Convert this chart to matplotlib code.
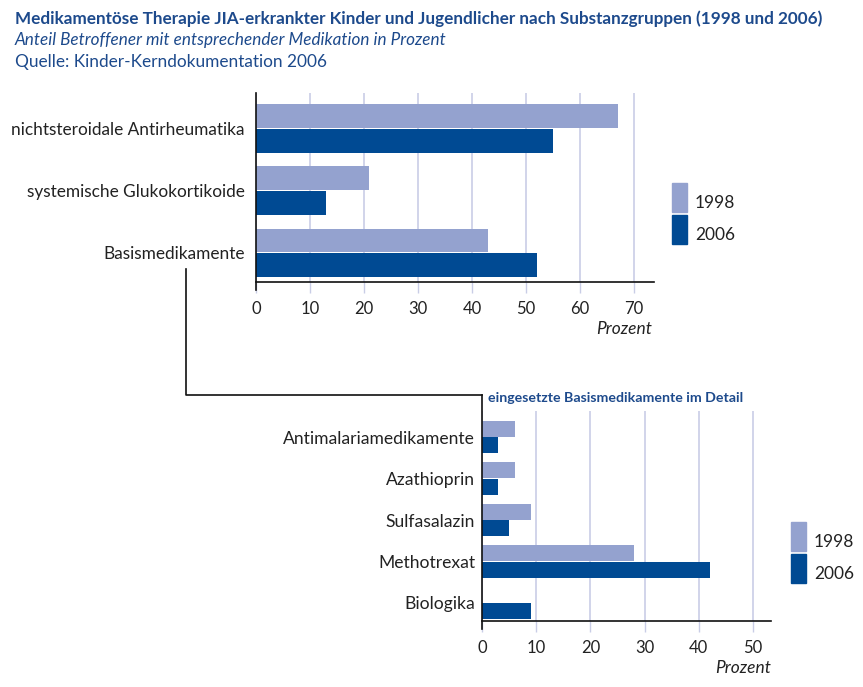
import matplotlib
matplotlib.use("Agg")
import matplotlib.pyplot as plt
from matplotlib.lines import Line2D
from matplotlib.patches import Rectangle
import numpy as np

plt.rcParams['font.family'] = ['Lato', 'DejaVu Sans']

# ---- data ----
title = "Medikamentöse Therapie JIA-erkrankter Kinder und Jugendlicher nach Substanzgruppen (1998 und 2006)"
subtitle = "Anteil Betroffener mit entsprechender Medikation in Prozent"
source = "Quelle: Kinder-Kerndokumentation 2006"

top_categories = ["nichtsteroidale Antirheumatika", "systemische Glukokortikoide", "Basismedikamente"]
top_1998 = [67, 21, 43]
top_2006 = [55, 13, 52]
top_ticks = [0, 10, 20, 30, 40, 50, 60, 70]

detail_title = "eingesetzte Basismedikamente im Detail"
bot_categories = ["Antimalariamedikamente", "Azathioprin", "Sulfasalazin", "Methotrexat", "Biologika"]
bot_1998 = [6, 6, 9, 28, 0]
bot_2006 = [3, 3, 5, 42, 9]
bot_ticks = [0, 10, 20, 30, 40, 50]

series_labels = ["1998", "2006"]
axis_label = "Prozent"

# ---- style ----
C_LIGHT = "#94a2cf"
C_DARK = "#004a93"
C_GRID = "#c9cde6"
C_TITLE = "#1d4a8c"
C_TEXT = "#222222"

W, H = 863, 687
fig = plt.figure(figsize=(W / 100, H / 100), dpi=100)


def fx(x):
    return x / W


def fy(y):
    return 1 - y / H


def add_axes_px(l, t, r, b):
    return fig.add_axes([fx(l), fy(b), fx(r) - fx(l), fy(t) - fy(b)])


def draw_panel(ax, cats, v1, v2, ticks, xmax, ylim, bar_h, label_fs, label_pad):
    y = np.arange(len(cats))
    ax.barh(y - bar_h / 2 - 0.008, v1, height=bar_h, color=C_LIGHT, zorder=3)
    ax.barh(y + bar_h / 2 + 0.008, v2, height=bar_h, color=C_DARK, zorder=3)
    ax.set_xlim(0, xmax)
    ax.set_ylim(*ylim)
    ax.set_yticks(y)
    ax.set_yticklabels(cats, fontsize=label_fs, color=C_TEXT)
    ax.tick_params(axis='y', length=0, pad=label_pad)
    ax.set_xticks(ticks)
    ax.set_xticklabels([str(t) for t in ticks], fontsize=12, color=C_TEXT)
    ax.tick_params(axis='x', length=8, width=1, color=C_GRID, pad=6)
    ax.grid(axis='x', color=C_GRID, linewidth=1.2, zorder=0)
    ax.set_axisbelow(True)
    for s in ['top', 'right', 'left']:
        ax.spines[s].set_visible(False)
    ax.spines['bottom'].set_color('#111111')
    ax.spines['bottom'].set_linewidth(1.2)
    ax.spines['bottom'].set_zorder(4)


# top panel
ax1 = add_axes_px(256, 93, 654, 282)
draw_panel(ax1, top_categories, top_1998, top_2006, top_ticks, 73.7,
           (2.466, -0.570), 0.385, 12.4, 8)

# bottom panel
ax2 = add_axes_px(482, 411, 771, 621)
draw_panel(ax2, bot_categories, bot_1998, bot_2006, bot_ticks, 53.3,
           (4.434, -0.627), 0.386, 12.6, 5)

# left spines (extended beyond axes)
fig.add_artist(Line2D([fx(255.5), fx(255.5)], [fy(93), fy(290)], color='#111111', lw=1.2))
fig.add_artist(Line2D([fx(481.5), fx(481.5)], [fy(395), fy(629)], color='#111111', lw=1.2))

# connector line
fig.add_artist(Line2D([fx(186), fx(186), fx(481.5)], [fy(269), fy(395), fy(395)],
                      color='#111111', lw=1.2))

# axis labels
fig.text(fx(652), fy(329), axis_label, fontsize=12.5, style='italic', color=C_TEXT,
         ha='right', va='center')
fig.text(fx(771), fy(668), axis_label, fontsize=12.5, style='italic', color=C_TEXT,
         ha='right', va='center')

# detail title
fig.text(fx(488), fy(398), detail_title, fontsize=10.2, fontweight='bold', color=C_TITLE,
         ha='left', va='center')

# legends
def legend(x, y_top):
    for i, (lab, col) in enumerate(zip(series_labels, [C_LIGHT, C_DARK])):
        yt = y_top + i * 32
        fig.add_artist(Rectangle((fx(x), fy(yt + 29)), fx(15), 29 / H, color=col,
                                 transform=fig.transFigure))
        fig.text(fx(x + 23), fy(yt + 20), lab, fontsize=12.5, color=C_TEXT,
                 ha='left', va='center')

legend(672, 183)
legend(791, 522)

# titles
fig.text(fx(15), fy(19), title, fontsize=12.3, fontweight='bold', color=C_TITLE,
         ha='left', va='center')
fig.text(fx(15), fy(40), subtitle, fontsize=12.3, style='italic', color=C_TITLE,
         ha='left', va='center')
fig.text(fx(15), fy(62), source, fontsize=12.4, color=C_TITLE,
         ha='left', va='center')

fig.savefig("out.png", dpi=100, facecolor='white')
